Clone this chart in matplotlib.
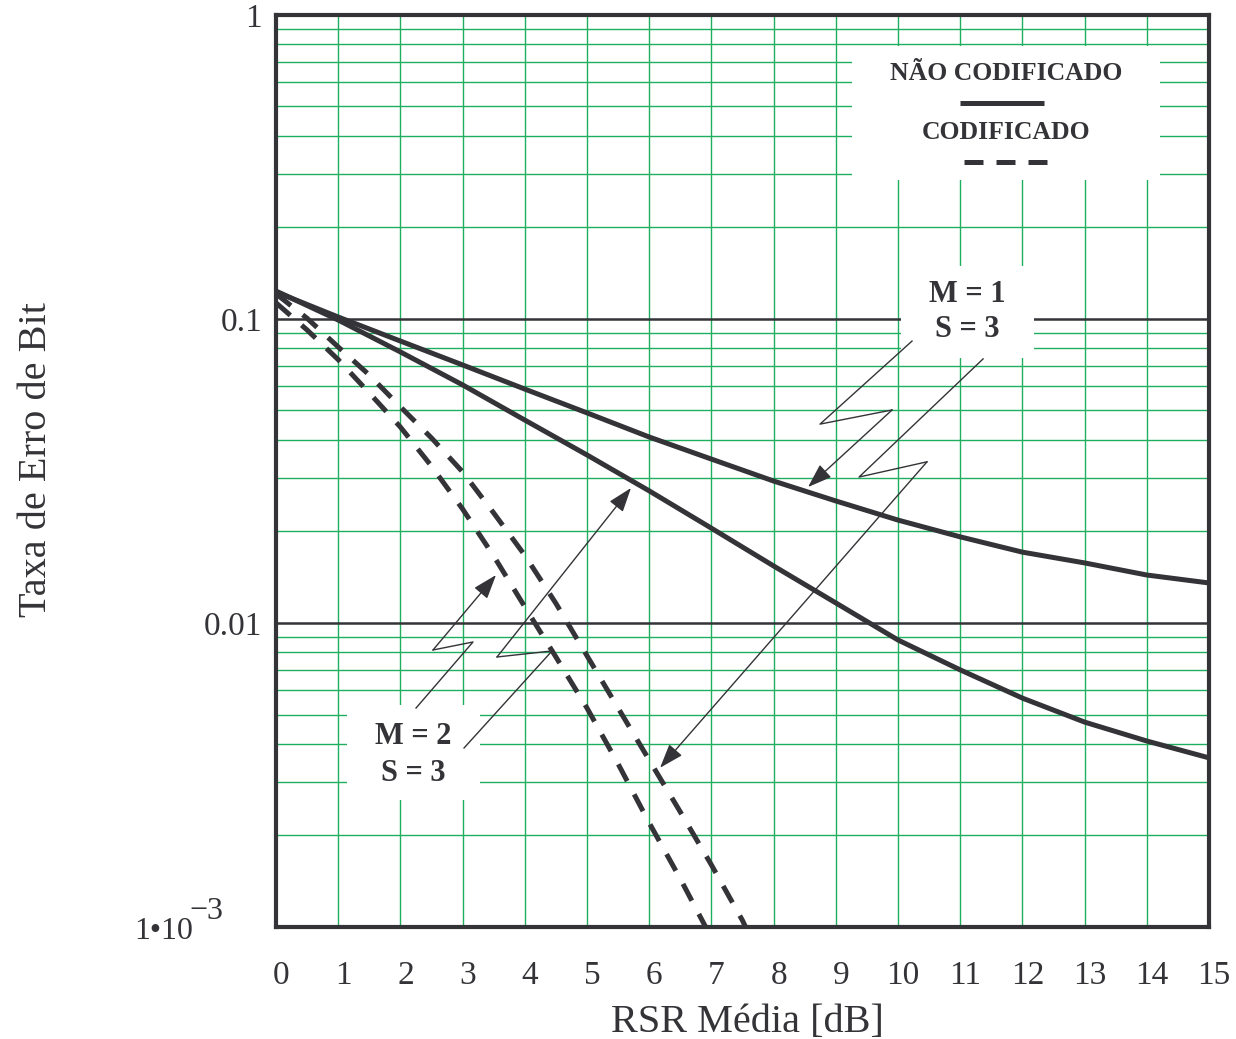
import matplotlib
matplotlib.use('Agg')
import matplotlib.pyplot as plt
import matplotlib.transforms as mtransforms
from matplotlib.patches import Rectangle
from matplotlib.lines import Line2D
from matplotlib.ticker import FixedLocator, NullFormatter, LogLocator

plt.rcParams['font.family'] = ['Liberation Serif', 'DejaVu Serif']

# ---------------- data ----------------
snr_uncoded = [0, 1, 2, 3, 4, 5, 6, 7, 8, 9, 10, 11, 12, 13, 14, 15]
ber_m1_uncoded = [0.1227, 0.1015, 0.0846, 0.0706, 0.0588, 0.0491, 0.0409, 0.0346,
                  0.0293, 0.0252, 0.0218, 0.0192, 0.0171, 0.01576, 0.01438, 0.01354]
ber_m2_uncoded = [0.1236, 0.0992, 0.0779, 0.0607, 0.0465, 0.0357, 0.0272, 0.0205,
                  0.0154, 0.01164, 0.00879, 0.00701, 0.00566, 0.00472, 0.00409, 0.00360]

snr_m1_coded = [0, 0.5, 1, 1.5, 2, 2.5, 3, 3.5, 4, 4.5, 5, 5.5, 6, 6.5, 7, 7.5, 7.6]
ber_m1_coded = [0.121, 0.1005, 0.0809, 0.0654, 0.0514, 0.0406, 0.0314, 0.0230, 0.0167,
                0.0116, 0.0078, 0.00525, 0.00354, 0.00239, 0.0016, 0.00105, 0.00095]
snr_m2_coded = [0, 0.5, 1, 1.5, 2, 2.5, 3, 3.5, 4, 4.5, 5, 5.5, 6, 6.5, 7.0]
ber_m2_coded = [0.113, 0.092, 0.0735, 0.0571, 0.0441, 0.0328, 0.0237, 0.0166, 0.0113,
                0.00773, 0.00525, 0.00344, 0.0022, 0.00144, 0.00092]

x_ticks = list(range(16))
x_tick_labels = [str(v) for v in x_ticks]
y_ticks = [1e-3, 1e-2, 1e-1, 1]
y_tick_labels = ['', '0.01', '0.1', '1']
y_bottom_label = ['1•10', '−3']

legend_labels = ['NÃO CODIFICADO', 'CODIFICADO']
m1_label = ['M = 1', 'S = 3']
m2_label = ['M = 2', 'S = 3']

# annotation pointer polylines (data coords), last segment ends in an arrow
ptr_m1_a_x = [10.225, 8.746, 9.904, 8.553]
ptr_m1_a_y = [0.0846, 0.0451, 0.0502, 0.0280]
ptr_m1_b_x = [11.367, 9.373, 10.466, 6.174]
ptr_m1_b_y = [0.0739, 0.0302, 0.0339, 0.00334]
ptr_m2_a_x = [2.251, 3.167, 2.524, 3.537]
ptr_m2_a_y = [0.00525, 0.00866, 0.00815, 0.01438]
ptr_m2_b_x = [3.023, 4.437, 3.553, 5.707]
ptr_m2_b_y = [0.00388, 0.00809, 0.00773, 0.0278]

# ---------------- style ----------------
INK = '#343438'
GREEN = '#1fae5e'

fig = plt.figure(figsize=(12.36, 10.39), dpi=100)
ax = fig.add_axes([0.2233, 0.1078, 0.7549, 0.8778])
ax.set_yscale('log')
ax.set_xlim(0, 15)
ax.set_ylim(1e-3, 1)
ax.set_axisbelow(True)

ax.xaxis.set_major_locator(FixedLocator(x_ticks))
ax.set_xticklabels(x_tick_labels)
ax.yaxis.set_major_locator(FixedLocator(y_ticks))
ax.set_yticklabels(y_tick_labels)
ax.yaxis.set_minor_locator(LogLocator(base=10, subs=[2, 3, 4, 5, 6, 7, 8, 9]))
ax.yaxis.set_minor_formatter(NullFormatter())

ax.tick_params(axis='both', which='both', length=0, colors=INK)
ax.tick_params(axis='x', labelsize=24, pad=24)
ax.tick_params(axis='y', labelsize=24, pad=10)

offset = mtransforms.ScaledTranslation(5 / 100, 0, fig.dpi_scale_trans)
for lab in ax.get_xticklabels():
    lab.set_transform(lab.get_transform() + offset)

# bottom y label "1•10^-3" with a large superscript
ax.text(-0.0885, -0.0044, y_bottom_label[0], transform=ax.transAxes, ha='right',
        va='center', fontsize=23, color=INK)
ax.text(-0.0560, 0.0165, y_bottom_label[1], transform=ax.transAxes, ha='right',
        va='center', fontsize=23, color=INK)

ax.grid(True, which='major', axis='x', color=GREEN, lw=1.0)
ax.grid(True, which='minor', axis='y', color=GREEN, lw=1.0)
ax.grid(True, which='major', axis='y', color=INK, lw=1.8)

for sp in ax.spines.values():
    sp.set_color(INK)
    sp.set_linewidth(3)
    sp.set_zorder(5)

ax.set_xlabel('RSR Média [dB]', fontsize=29, color=INK)
ax.xaxis.set_label_coords(0.5048, -0.084)
ax.set_ylabel('Taxa de Erro de Bit', fontsize=29, color=INK)
ax.yaxis.set_label_coords(-0.2365, 0.512)

# white boxes covering the grid
for (x0, y0, w, h) in [(0.6174, 0.819, 0.3301, 0.147),
                       (0.6699, 0.6239, 0.1425, 0.1009),
                       (0.0761, 0.1393, 0.1425, 0.1041)]:
    ax.add_patch(Rectangle((x0, y0), w, h, transform=ax.transAxes,
                           facecolor='white', edgecolor='none', zorder=1))

# curves
lw = 3.6
ax.plot(snr_uncoded, ber_m1_uncoded, color=INK, lw=lw, zorder=3, solid_capstyle='butt')
ax.plot(snr_uncoded, ber_m2_uncoded, color=INK, lw=lw, zorder=3, solid_capstyle='butt')
ax.plot(snr_m1_coded, ber_m1_coded, color=INK, lw=lw, zorder=3,
        linestyle=(0, (3.8, 3.0)), dash_capstyle='butt')
ax.plot(snr_m2_coded, ber_m2_coded, color=INK, lw=lw, zorder=3,
        linestyle=(0, (3.8, 3.0)), dash_capstyle='butt')

# legend (drawn manually, labels above handles)
ax.text(0.7824, 0.9355, legend_labels[0], transform=ax.transAxes, ha='center',
        va='center', fontsize=18.5, fontweight='bold', color=INK, zorder=4)
ax.add_line(Line2D([0.7331, 0.8232], [0.9035, 0.9035], transform=ax.transAxes,
                   color=INK, lw=lw, solid_capstyle='butt', zorder=4))
ax.text(0.7824, 0.8708, legend_labels[1], transform=ax.transAxes, ha='center',
        va='center', fontsize=18.5, fontweight='bold', color=INK, zorder=4)
ax.add_line(Line2D([0.7374, 0.8274], [0.8388, 0.8388], transform=ax.transAxes,
                   color=INK, lw=lw, linestyle=(0, (3.8, 2.6)), dash_capstyle='butt',
                   zorder=4))

# annotation texts
for txt, yy in zip(m1_label, [0.6930, 0.6546]):
    ax.text(0.7406, yy, txt, transform=ax.transAxes, ha='center', va='center',
            fontsize=22, fontweight='bold', color=INK, zorder=4)
for txt, yy in zip(m2_label, [0.2094, 0.1688]):
    ax.text(0.1468, yy, txt, transform=ax.transAxes, ha='center', va='center',
            fontsize=22, fontweight='bold', color=INK, zorder=4)

# pointer lines
for px, py in [(ptr_m1_a_x, ptr_m1_a_y), (ptr_m1_b_x, ptr_m1_b_y),
               (ptr_m2_a_x, ptr_m2_a_y), (ptr_m2_b_x, ptr_m2_b_y)]:
    ax.plot(px[:-1], py[:-1], color=INK, lw=1.0, zorder=4)
    ax.annotate('', xy=(px[-1], py[-1]), xytext=(px[-2], py[-2]),
                arrowprops=dict(arrowstyle='-|>,head_length=1.0,head_width=0.35',
                                color=INK, lw=1.0, shrinkA=0, shrinkB=0,
                                mutation_scale=15),
                zorder=4)

fig.savefig('out.png', dpi=100, facecolor='white')
